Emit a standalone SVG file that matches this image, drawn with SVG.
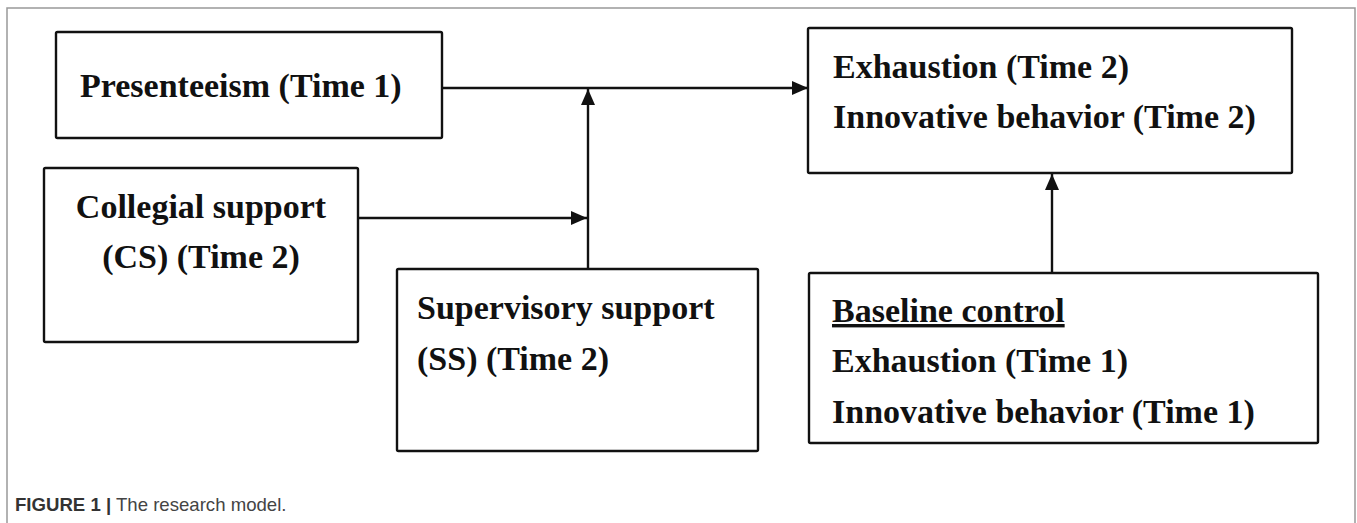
<svg xmlns="http://www.w3.org/2000/svg" width="1357" height="523" viewBox="0 0 1357 523">
<defs>
<style>
.box{fill:#fff;stroke:#111;stroke-width:2.4}
.t{font-family:"Liberation Serif","Times New Roman",serif;font-weight:bold;font-size:34px;fill:#111}
.c{fill:none;stroke:#111;stroke-width:2.4}
.frame{fill:none;stroke:#999;stroke-width:1.5}
.cap{font-family:"Liberation Sans",Arial,sans-serif;font-size:18.6px;fill:#444}
</style>
<marker id="ah" viewBox="0 0 16 14" markerWidth="16" markerHeight="14" refX="16" refY="7" orient="auto" markerUnits="userSpaceOnUse">
<path d="M0,0 L16,7 L0,14 Z" fill="#111"/>
</marker>
</defs>
<rect width="1357" height="523" fill="#fff"/>
<path class="frame" d="M7,523 V8 H1355 V523"/>
<g id="connectors">
<line class="c" x1="442" y1="88" x2="808" y2="88" marker-end="url(#ah)"/>
<line class="c" x1="588" y1="269" x2="588" y2="89" marker-end="url(#ah)"/>
<line class="c" x1="358" y1="218" x2="587" y2="218" marker-end="url(#ah)"/>
<line class="c" x1="1052" y1="273" x2="1052" y2="174" marker-end="url(#ah)"/>
</g>
<g id="presenteeism">
<rect class="box" x="56" y="32" width="386" height="106" rx="1.5"/>
<text class="t" x="80" y="97">Presenteeism (Time 1)</text>
</g>
<g id="collegial">
<rect class="box" x="44" y="168" width="314" height="174" rx="1.5"/>
<text class="t" x="201" y="218" text-anchor="middle">Collegial support</text>
<text class="t" x="201" y="268" text-anchor="middle">(CS) (Time 2)</text>
</g>
<g id="supervisory">
<rect class="box" x="397" y="269" width="361" height="182" rx="1.5"/>
<text class="t" x="417" y="319">Supervisory support</text>
<text class="t" x="417" y="370">(SS) (Time 2)</text>
</g>
<g id="outcomes">
<rect class="box" x="808" y="28" width="484" height="145" rx="1.5"/>
<text class="t" x="833" y="78">Exhaustion (Time 2)</text>
<text class="t" x="833" y="128">Innovative behavior (Time 2)</text>
</g>
<g id="baseline">
<rect class="box" x="809" y="273" width="509" height="170" rx="1.5"/>
<text class="t" x="832" y="322" text-decoration="underline">Baseline control</text>
<text class="t" x="832" y="372">Exhaustion (Time 1)</text>
<text class="t" x="832" y="423">Innovative behavior (Time 1)</text>
</g>
<text class="cap" x="15" y="511"><tspan font-weight="bold" fill="#333">FIGURE 1 |</tspan> The research model.</text>
</svg>
